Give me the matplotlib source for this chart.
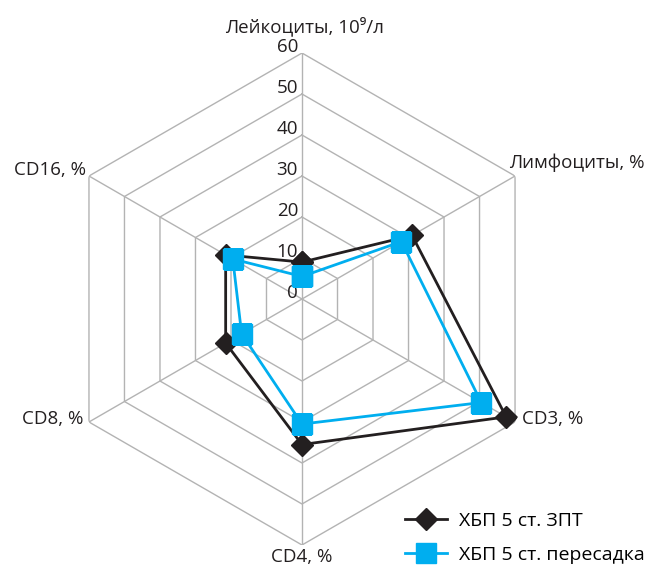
import numpy as np
import matplotlib.pyplot as plt
from matplotlib.transforms import offset_copy

plt.rcParams['font.family'] = ['Open Sans', 'DejaVu Sans']

# categories, clockwise from the top
labels = ["Лейкоциты, 10⁹/л", "Лимфоциты, %", "CD3, %", "CD4, %", "CD8, %", "CD16, %"]
zpt = [9, 31, 57.5, 35.5, 21.5, 21.5]          # ХБП 5 ст. ЗПТ
transplant = [5.5, 28, 50.5, 30.5, 17, 19.5]   # ХБП 5 ст. пересадка
levels = [0, 10, 20, 30, 40, 50, 60]

n = len(labels)
angles = np.linspace(0, 2 * np.pi, n, endpoint=False)
closed = np.append(angles, angles[0])

fig = plt.figure(figsize=(6.48, 5.67), dpi=100)
ax = fig.add_axes([0.0864, 0.0388, 0.7593, 0.8677], projection='polar')
ax.set_theta_offset(np.pi / 2)
ax.set_theta_direction(-1)
ax.set_ylim(0, 60)
ax.grid(False)
ax.spines['polar'].set_visible(False)
ax.set_xticks([])
ax.set_yticks([])

# hexagon grid
grid_col = '#b3b3b3'
for lv in levels[1:]:
    ax.plot(closed, [lv] * (n + 1), color=grid_col, lw=1, zorder=1)
for a in angles:
    ax.plot([a, a], [0, 60], color=grid_col, lw=1, zorder=1)

# value labels along the top spoke
tr = offset_copy(ax.transData, fig=fig, x=-4, y=6, units='dots')
for lv in levels:
    ax.text(0, lv, str(lv), transform=tr, ha='right', va='center',
            fontsize=13.5, color='#231f20')

# category labels
offsets = [(2, 27, 'center', 'center'),
           (-6, 13, 'left', 'center'),
           (7, 3, 'left', 'center'),
           (0, -12, 'center', 'center'),
           (-6, 3, 'right', 'center'),
           (-3, 6, 'right', 'center')]
for a, lab, (dx, dy, ha, va) in zip(angles, labels, offsets):
    t = offset_copy(ax.transData, fig=fig, x=dx, y=dy, units='dots')
    ax.text(a, 60, lab, transform=t, ha=ha, va=va, fontsize=13.5, color='#231f20')

ax.plot(closed, zpt + zpt[:1], color='#231f20', lw=2, marker='D',
        markersize=11, label='ХБП 5 ст. ЗПТ', zorder=3)
ax.plot(closed, transplant + transplant[:1], color='#00aeef', lw=2, marker='s',
        markersize=14, label='ХБП 5 ст. пересадка', zorder=4)

fig.legend(loc='lower right', bbox_to_anchor=(1.022, -0.026), frameon=False,
           fontsize=14, handlelength=2.2, labelspacing=0.85, handletextpad=0.6)

fig.savefig('out.png', dpi=100)
